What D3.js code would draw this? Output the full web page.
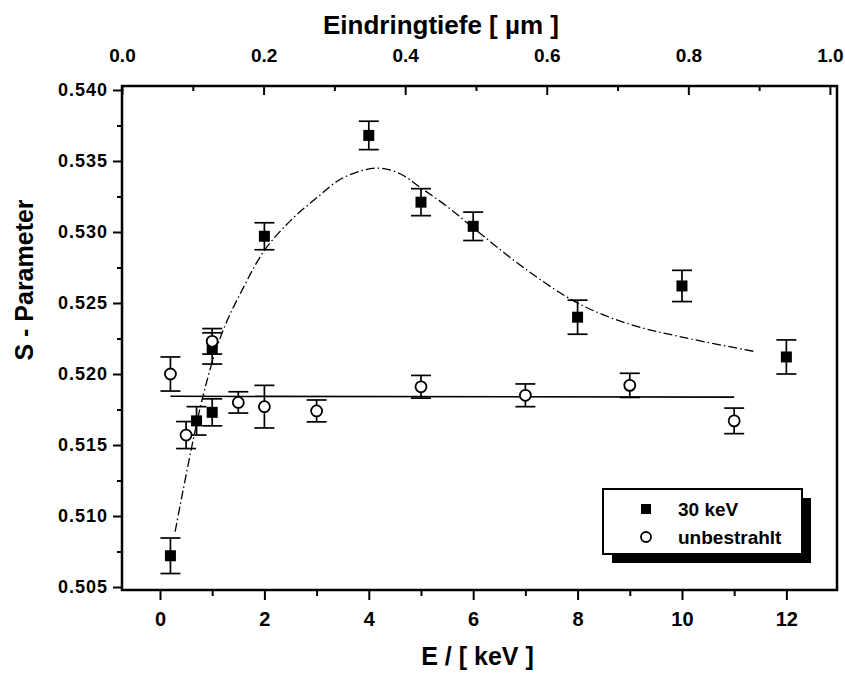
<!DOCTYPE html>
<html>
<head>
<meta charset="utf-8">
<script src="https://cdn.jsdelivr.net/npm/d3@7"></script>
<style>
  body { margin: 0; background: #fff; }
  svg { display: block; }
  text { font-family: "Liberation Sans", Arial, Helvetica, sans-serif; fill: #000; font-weight: bold; }
</style>
</head>
<body>
<svg id="chart" width="845" height="675"></svg>
<script>
// ---- data ----
const energy30 = [0.2, 0.7, 1.0, 1.0, 2, 4, 5, 6, 8, 10, 12];
const sParam30 = [0.5072, 0.5167, 0.5173, 0.5218, 0.5297, 0.5368, 0.5321, 0.5304, 0.5240, 0.5262, 0.5212];
const err30    = [0.00125, 0.0010, 0.00095, 0.0011, 0.00095, 0.0010, 0.00095, 0.0010, 0.0012, 0.0011, 0.0012];

const energyU = [0.2, 0.5, 1.0, 1.5, 2, 3, 5, 7, 9, 11];
const sParamU = [0.5200, 0.5157, 0.5223, 0.5180, 0.5177, 0.5174, 0.5191, 0.5185, 0.5192, 0.5167];
const errU    = [0.0012, 0.00095, 0.0009, 0.00075, 0.0015, 0.00077, 0.0008, 0.0008, 0.00085, 0.0009];

// fitted curve for 30 keV
const fitE = [0.29, 0.82, 1.19, 1.6, 2.0, 2.5, 3.0, 3.5, 4.15, 4.6, 5.0, 5.5, 6.0, 7.0, 8.0, 9.0, 10.0, 11.37];
const fitS = [0.5089, 0.5184, 0.5229, 0.5261, 0.5287, 0.5308, 0.5324, 0.5338, 0.5345, 0.5341, 0.5331, 0.5318, 0.5303, 0.5274, 0.5250, 0.5235, 0.5226, 0.5216];

// constant line for unbestrahlt
const flatE = [0.2, 11.0];
const flatS = [0.51843, 0.51837];

const xTicksMajor = [0, 2, 4, 6, 8, 10, 12];
const xTicksMinor = [1, 3, 5, 7, 9, 11];
const topTicksMajor = [0.0, 0.2, 0.4, 0.6, 0.8, 1.0];
const topTicksMinor = [0.1, 0.3, 0.5, 0.7, 0.9];
const yTicksMajor = [0.505, 0.510, 0.515, 0.520, 0.525, 0.530, 0.535, 0.540];
const yTicksMinor = [0.5075, 0.5125, 0.5175, 0.5225, 0.5275, 0.5325, 0.5375];

const legendLabels = ["30 keV", "unbestrahlt"];

// ---- layout ----
const svg = d3.select("#chart");
const L = 122, R = 837, T = 86, B = 590;

const x = d3.scaleLinear().domain([-0.728, 12.97]).range([L, R]);
const xTop = d3.scaleLinear().domain([0, 1.01]).range([L, R]);
const y = d3.scaleLinear().domain([0.50479, 0.54028]).range([B, T]);

function styleAxis(g, size) {
  g.select(".domain").remove();
  g.selectAll(".tick line").attr("stroke", "#000").attr("stroke-width", 2);
  g.selectAll(".tick text").style("font-size", size + "px").attr("fill", "#000");
}

// bottom
svg.append("g").attr("transform", `translate(0,${B})`)
  .call(d3.axisBottom(x).tickValues(xTicksMajor).tickSize(10).tickPadding(12).tickFormat(d3.format("d")))
  .call(g => styleAxis(g, 20));
svg.append("g").attr("transform", `translate(0,${B})`)
  .call(d3.axisBottom(x).tickValues(xTicksMinor).tickSize(6).tickFormat(""))
  .call(g => styleAxis(g, 20));

// top (inward ticks)
svg.append("g").attr("transform", `translate(0,${T})`)
  .call(d3.axisTop(xTop).tickValues(topTicksMajor).tickSize(-9).tickPadding(24).tickFormat(d3.format(".1f")))
  .call(g => styleAxis(g, 19));
svg.append("g").attr("transform", `translate(0,${T})`)
  .call(d3.axisTop(xTop).tickValues(topTicksMinor).tickSize(-5).tickFormat(""))
  .call(g => styleAxis(g, 19));

// left
svg.append("g").attr("transform", `translate(${L},0)`)
  .call(d3.axisLeft(y).tickValues(yTicksMajor).tickSize(9).tickPadding(5).tickFormat(d3.format(".3f")))
  .call(g => styleAxis(g, 18))
  .call(g => g.selectAll(".tick text").style("letter-spacing", "1px"));
svg.append("g").attr("transform", `translate(${L},0)`)
  .call(d3.axisLeft(y).tickValues(yTicksMinor).tickSize(5).tickFormat(""))
  .call(g => styleAxis(g, 18));

// frame
svg.append("rect").attr("x", L).attr("y", T).attr("width", R - L).attr("height", B - T)
  .attr("fill", "none").attr("stroke", "#000").attr("stroke-width", 2.5);

// axis titles
svg.append("text").attr("x", 441).attr("y", 34).attr("text-anchor", "middle")
  .style("font-size", "26px").text("Eindringtiefe [ µm ]");
svg.append("text").attr("x", (L + R) / 2 - 2).attr("y", 665).attr("text-anchor", "middle")
  .style("font-size", "25px").text("E / [ keV ]");
svg.append("text").attr("transform", "translate(33,280) rotate(-90)").attr("text-anchor", "middle")
  .style("font-size", "25px").text("S - Parameter");

// fitted curve
const fitData = fitE.map((e, i) => [e, fitS[i]]);
svg.append("path").datum(fitData)
  .attr("d", d3.line().x(d => x(d[0])).y(d => y(d[1])).curve(d3.curveCatmullRom.alpha(0.5)))
  .attr("fill", "none").attr("stroke", "#000").attr("stroke-width", 1.3)
  .attr("stroke-dasharray", "9,3,1.5,3");

// flat line
const flatData = flatE.map((e, i) => [e, flatS[i]]);
svg.append("path").datum(flatData)
  .attr("d", d3.line().x(d => x(d[0])).y(d => y(d[1])))
  .attr("fill", "none").attr("stroke", "#000").attr("stroke-width", 1.6);

// error bars
function errorBars(E, S, Err) {
  const g = svg.append("g").attr("stroke", "#000").attr("stroke-width", 1.7);
  E.forEach((e, i) => {
    const cx = x(e), y1 = y(S[i] + Err[i]), y2 = y(S[i] - Err[i]);
    g.append("line").attr("x1", cx).attr("x2", cx).attr("y1", y1).attr("y2", y2);
    g.append("line").attr("x1", cx - 10).attr("x2", cx + 10).attr("y1", y1).attr("y2", y1);
    g.append("line").attr("x1", cx - 10).attr("x2", cx + 10).attr("y1", y2).attr("y2", y2);
  });
}
errorBars(energy30, sParam30, err30);
errorBars(energyU, sParamU, errU);

// markers
svg.append("g").selectAll("rect").data(energy30.map((e, i) => [e, sParam30[i]])).join("rect")
  .attr("x", d => x(d[0]) - 5.5).attr("y", d => y(d[1]) - 5.5)
  .attr("width", 11).attr("height", 11).attr("fill", "#000");
svg.append("g").selectAll("circle").data(energyU.map((e, i) => [e, sParamU[i]])).join("circle")
  .attr("cx", d => x(d[0])).attr("cy", d => y(d[1])).attr("r", 5.5)
  .attr("fill", "#fff").attr("stroke", "#000").attr("stroke-width", 1.8);

// legend
const lg = svg.append("g");
lg.append("rect").attr("x", 612).attr("y", 498).attr("width", 199).attr("height", 65).attr("fill", "#000");
lg.append("rect").attr("x", 603).attr("y", 489).attr("width", 199).attr("height", 65)
  .attr("fill", "#fff").attr("stroke", "#000").attr("stroke-width", 2);
lg.append("rect").attr("x", 641).attr("y", 504).attr("width", 10).attr("height", 10).attr("fill", "#000");
lg.append("circle").attr("cx", 646).attr("cy", 537).attr("r", 5).attr("fill", "#fff")
  .attr("stroke", "#000").attr("stroke-width", 1.8);
lg.selectAll("text.lbl").data(legendLabels).join("text").attr("class", "lbl")
  .attr("x", 678).attr("y", (d, i) => 516 + i * 28)
  .style("font-size", "19px").text(d => d);
</script>
</body>
</html>
